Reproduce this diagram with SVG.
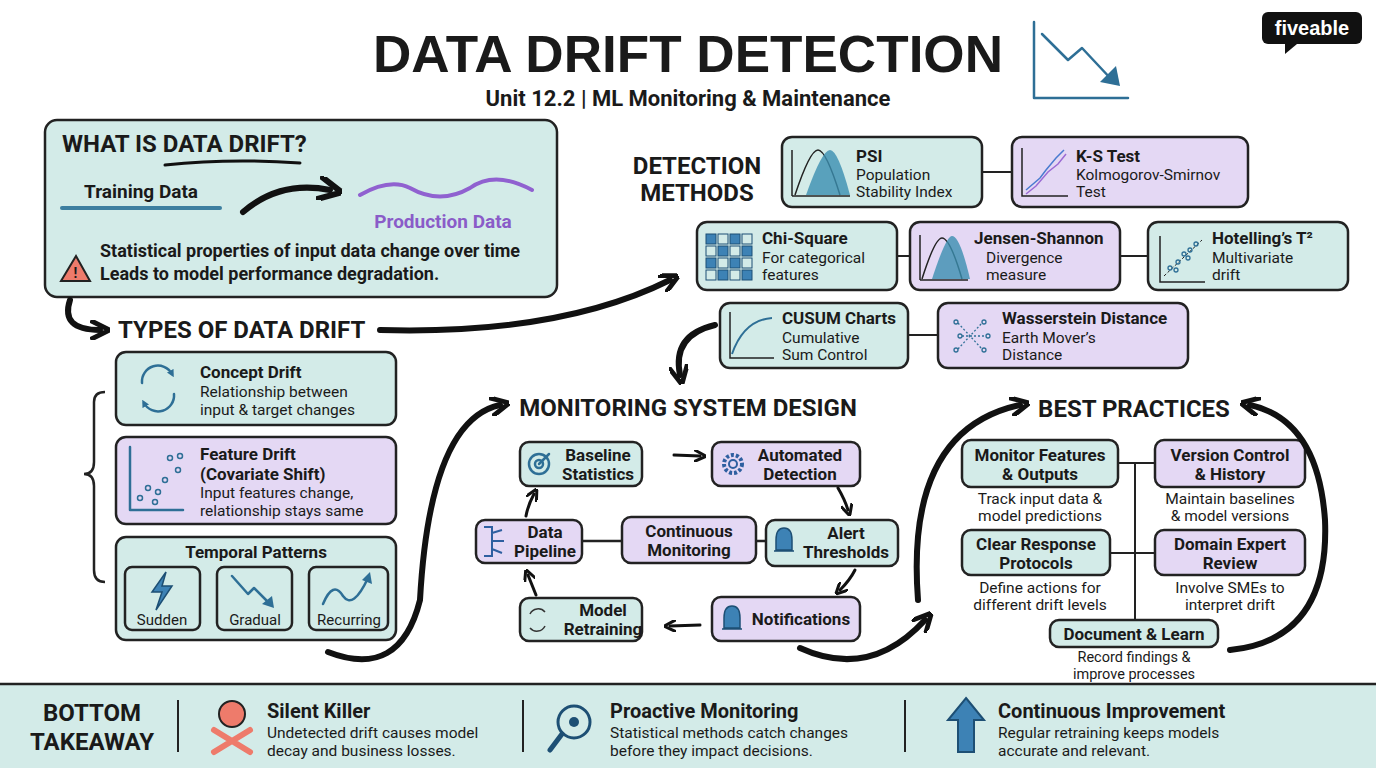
<svg xmlns="http://www.w3.org/2000/svg" width="1376" height="768" viewBox="0 0 1376 768">
<style>
text{font-family:"Liberation Sans Narrow","Roboto","Liberation Sans",sans-serif;fill:#1a1a1a}
.b{font-weight:bold}
.t{fill:#d3ebe8;stroke:#222;stroke-width:2.5}
.p{fill:#e4d8f4;stroke:#222;stroke-width:2.5}
.ic{fill:none;stroke:#2e6f96;stroke-width:2.5;stroke-linecap:round;stroke-linejoin:round}
.ar{fill:none;stroke:#111;stroke-width:6;stroke-linecap:round}
.a3{fill:none;stroke:#111;stroke-width:3;stroke-linecap:round}
.h{font-size:24px;font-weight:bold}
.n{font-size:17px;font-weight:bold}
.s{font-size:15.5px}
</style>
<defs>
<marker id="m" viewBox="0 0 10 10" refX="5" refY="5" markerWidth="3.2" markerHeight="3.2" orient="auto"><path d="M0,0 L10,5 L0,10" fill="none" stroke="#111" stroke-width="2.5"/></marker>
<marker id="ms" viewBox="0 0 10 10" refX="5" refY="5" markerWidth="4" markerHeight="4" orient="auto"><path d="M0,0 L10,5 L0,10" fill="none" stroke="#111" stroke-width="2.5"/></marker>
<marker id="mi" viewBox="0 0 10 10" refX="5" refY="5" markerWidth="3" markerHeight="3" orient="auto"><path d="M0,0 L10,5 L0,10Z" fill="#2e6f96"/></marker>
</defs>
<rect width="1376" height="768" fill="#fff"/>
<g id="title">
<text x="688" y="72" text-anchor="middle" font-size="52" font-weight="900" style="font-family:'Liberation Sans','Roboto',sans-serif" textLength="630" lengthAdjust="spacingAndGlyphs">DATA DRIFT DETECTION</text>
<text x="688" y="106" text-anchor="middle" font-size="22" class="b">Unit 12.2 | ML Monitoring &amp; Maintenance</text>
<path d="M1034,22 L1034,98 L1128,98" class="ic" stroke-width="4"/>
<path d="M1042,34 L1068,60 L1082,48 L1112,80" class="ic" stroke-width="4"/>
<path d="M1100,82 L1120,86 L1116,66 Z" fill="#2e6f96"/>
<rect x="1262" y="12" width="100" height="32" rx="6" fill="#111"/>
<path d="M1285,44 L1285,54 L1297,44Z" fill="#111"/>
<text x="1312" y="35" text-anchor="middle" font-size="20" class="b" style="fill:#fff;font-family:'Liberation Sans',sans-serif">fiveable</text>
</g>
<g id="what">
<rect x="45" y="120" width="512" height="177" rx="12" class="t"/>
<text x="62" y="152" class="h">WHAT IS DATA DRIFT?</text>
<path d="M165,165 Q230,158 300,163" class="a3"/>
<text x="84" y="198" font-size="19" class="b">Training Data</text>
<path d="M62,208 L220,208" stroke="#3d7fa0" stroke-width="4" stroke-linecap="round"/>
<path d="M243,212 Q280,180 330,190" class="ar" marker-end="url(#ms)"/>
<path d="M360,195 Q390,178 410,188 Q440,205 470,188 Q495,170 532,190" fill="none" stroke="#9061d0" stroke-width="4" stroke-linecap="round"/>
<text x="443" y="228" text-anchor="middle" font-size="19" class="b" style="fill:#8a5cc8">Production Data</text>
<text x="100" y="257" font-size="18" class="b">Statistical properties of input data change over time</text>
<text x="100" y="280" font-size="18" class="b">Leads to model performance degradation.</text>
<path d="M76,256 L90,281 L61,281 Z" fill="#ee7b6b" stroke="#222" stroke-width="2"/>
<text x="75.5" y="278" text-anchor="middle" font-size="14" class="b">!</text>
</g>
<g id="types">
<text x="118" y="338" class="h">TYPES OF DATA DRIFT</text>
<path d="M105,392 Q94,392 94,402 L94,462 Q94,474 84,474 Q94,474 94,486 L94,570 Q94,582 105,582" fill="none" stroke="#222" stroke-width="2.5"/>
<rect x="116" y="352" width="280" height="73" rx="10" class="t"/>
<path d="M142,383 A16,16 0 0 1 172,374" class="ic" stroke-width="4" marker-end="url(#mi)"/>
<path d="M174,394 A16,16 0 0 1 144,403" class="ic" stroke-width="4" marker-end="url(#mi)"/>
<text x="200" y="378" class="n">Concept Drift</text>
<text x="200" y="397" class="s">Relationship between</text>
<text x="200" y="415" class="s">input &amp; target changes</text>
<rect x="116" y="437" width="280" height="87" rx="10" class="p"/>
<path d="M130,447 L130,510 L183,510" class="ic" stroke-width="2"/>
<g fill="none" stroke="#2e6f96" stroke-width="1.5"><circle cx="140" cy="498" r="2.5"/><circle cx="148" cy="488" r="2.5"/><circle cx="158" cy="492" r="2.5"/><circle cx="165" cy="480" r="2.5"/><circle cx="178" cy="470" r="2.5"/><circle cx="170" cy="458" r="2.5"/><circle cx="180" cy="456" r="2.5"/><circle cx="155" cy="502" r="2.5"/></g>
<text x="200" y="460" class="n">Feature Drift</text>
<text x="200" y="480" class="n">(Covariate Shift)</text>
<text x="200" y="498" class="s">Input features change,</text>
<text x="200" y="516" class="s">relationship stays same</text>
<rect x="116" y="537" width="280" height="103" rx="10" class="t"/>
<text x="256" y="558" text-anchor="middle" class="n">Temporal Patterns</text>
<rect x="125" y="567" width="75" height="63" rx="7" class="t" stroke-width="2"/>
<rect x="217" y="567" width="75" height="63" rx="7" class="t" stroke-width="2"/>
<rect x="309" y="567" width="79" height="63" rx="7" class="t" stroke-width="2"/>
<path d="M166,572 L152,592 L162,592 L156,610 L172,586 L162,586 Z" fill="#3d82b5" stroke="#1d4f74" stroke-width="1.5"/>
<path d="M232,576 L248,594 L254,588 L270,604" class="ic" stroke-width="4"/>
<path d="M262,604 L274,608 L272,596Z" fill="#2e6f96"/>
<path d="M323,604 Q333,580 343,596 Q353,610 368,578" class="ic" stroke-width="4"/>
<path d="M362,580 L370,572 L372,584Z" fill="#2e6f96"/>
<text x="162" y="625" text-anchor="middle" font-size="15">Sudden</text>
<text x="255" y="625" text-anchor="middle" font-size="15">Gradual</text>
<text x="349" y="625" text-anchor="middle" font-size="15">Recurring</text>
</g>
<g id="detection">
<text x="697" y="174" text-anchor="middle" class="h">DETECTION</text>
<text x="697" y="201" text-anchor="middle" class="h">METHODS</text>
<rect x="782" y="137" width="200" height="70" rx="10" class="t"/>
<path d="M792,196 L850,196 M792,150 L792,196" stroke="#222" stroke-width="1.5"/>
<path d="M795,195 Q810,150 818,150 Q826,150 840,195" fill="none" stroke="#222" stroke-width="1.5"/>
<path d="M806,195 Q822,150 830,150 Q838,150 850,195Z" fill="#3b8fb0" opacity="0.8"/>
<text x="856" y="162" class="n">PSI</text>
<text x="856" y="180" class="s">Population</text>
<text x="856" y="197" class="s">Stability Index</text>
<line x1="982" y1="172" x2="1012" y2="172" stroke="#222" stroke-width="2"/>
<rect x="1012" y="137" width="236" height="70" rx="10" class="p"/>
<path d="M1022,148 L1022,196 L1068,196" stroke="#222" stroke-width="1.5" fill="none"/>
<path d="M1026,190 L1040,178 L1046,170 L1056,158 L1064,150" stroke="#4a7bd0" stroke-width="1.5" fill="none"/>
<path d="M1026,194 L1036,186 L1048,172 L1058,164 L1066,154" stroke="#9b6ad4" stroke-width="1.5" fill="none"/>
<text x="1076" y="162" class="n">K-S Test</text>
<text x="1076" y="180" class="s">Kolmogorov-Smirnov</text>
<text x="1076" y="197" class="s">Test</text>
<rect x="697" y="222" width="200" height="68" rx="10" class="t"/>
<g fill="#3d82b5" stroke="#1d4f74" stroke-width="1"><rect x="706" y="234" width="10" height="10"/><rect x="718" y="234" width="10" height="10" fill="#d3ebe8"/><rect x="730" y="234" width="10" height="10"/><rect x="742" y="234" width="10" height="10" fill="#d3ebe8"/><rect x="706" y="246" width="10" height="10" fill="#d3ebe8"/><rect x="718" y="246" width="10" height="10"/><rect x="730" y="246" width="10" height="10" fill="#d3ebe8"/><rect x="742" y="246" width="10" height="10"/><rect x="706" y="258" width="10" height="10"/><rect x="718" y="258" width="10" height="10" fill="#d3ebe8"/><rect x="730" y="258" width="10" height="10"/><rect x="742" y="258" width="10" height="10" fill="#d3ebe8"/><rect x="706" y="270" width="10" height="10" fill="#d3ebe8"/><rect x="718" y="270" width="10" height="10"/><rect x="730" y="270" width="10" height="10" fill="#d3ebe8"/><rect x="742" y="270" width="10" height="10"/></g>
<text x="762" y="244" class="n">Chi-Square</text>
<text x="762" y="263" class="s">For categorical</text>
<text x="762" y="280" class="s">features</text>
<line x1="897" y1="256" x2="910" y2="256" stroke="#222" stroke-width="2"/>
<rect x="910" y="222" width="210" height="68" rx="10" class="p"/>
<path d="M920,280 L968,280 M920,235 L920,280" stroke="#222" stroke-width="1.5"/>
<path d="M922,279 Q935,238 942,238 Q950,238 962,279" fill="none" stroke="#222" stroke-width="1.5"/>
<path d="M932,279 Q946,236 952,236 Q960,236 970,279Z" fill="#3b8fb0" opacity="0.8"/>
<text x="974" y="244" class="n">Jensen-Shannon</text>
<text x="986" y="263" class="s">Divergence</text>
<text x="986" y="280" class="s">measure</text>
<line x1="1120" y1="256" x2="1148" y2="256" stroke="#222" stroke-width="2"/>
<rect x="1148" y="222" width="200" height="68" rx="10" class="t"/>
<path d="M1160,236 L1160,282 L1205,282" stroke="#222" stroke-width="1.5" fill="none"/>
<path d="M1164,276 L1202,240" stroke="#222" stroke-width="1" stroke-dasharray="3,2"/>
<g fill="none" stroke="#2e6f96" stroke-width="1.3"><circle cx="1170" cy="268" r="2"/><circle cx="1178" cy="262" r="2"/><circle cx="1184" cy="254" r="2"/><circle cx="1190" cy="250" r="2"/><circle cx="1196" cy="244" r="2"/><circle cx="1176" cy="270" r="2"/><circle cx="1188" cy="258" r="2"/></g>
<text x="1212" y="244" class="n">Hotelling’s T²</text>
<text x="1212" y="263" class="s">Multivariate</text>
<text x="1212" y="280" class="s">drift</text>
<rect x="720" y="303" width="188" height="65" rx="10" class="t"/>
<path d="M730,312 L730,358 L774,358" stroke="#222" stroke-width="1.5" fill="none"/>
<path d="M732,354 Q744,320 772,318" stroke="#2e6f96" stroke-width="2" fill="none"/>
<text x="782" y="324" class="n">CUSUM Charts</text>
<text x="782" y="343" class="s">Cumulative</text>
<text x="782" y="360" class="s">Sum Control</text>
<line x1="908" y1="335" x2="938" y2="335" stroke="#222" stroke-width="2"/>
<rect x="938" y="303" width="250" height="65" rx="10" class="p"/>
<g fill="none" stroke="#2e6f96" stroke-width="1.3"><circle cx="956" cy="322" r="2"/><circle cx="960" cy="336" r="2"/><circle cx="956" cy="350" r="2"/><circle cx="984" cy="322" r="2"/><circle cx="988" cy="336" r="2"/><circle cx="984" cy="350" r="2"/><path d="M958,323 L982,349 M958,349 L982,323 M962,336 L986,336" stroke-dasharray="2,2"/></g>
<text x="1002" y="324" class="n">Wasserstein Distance</text>
<text x="1002" y="343" class="s">Earth Mover’s</text>
<text x="1002" y="360" class="s">Distance</text>
</g>
<g id="monitoring">
<text x="688" y="416" text-anchor="middle" class="h">MONITORING SYSTEM DESIGN</text>
<rect x="520" y="442" width="122" height="44" rx="9" class="t"/>
<circle cx="539" cy="464" r="10" class="ic"/><circle cx="539" cy="464" r="4" class="ic"/><path d="M539,464 L549,454" class="ic"/>
<text x="598" y="461" text-anchor="middle" class="n">Baseline</text>
<text x="598" y="480" text-anchor="middle" class="n">Statistics</text>
<rect x="712" y="442" width="148" height="44" rx="9" class="p"/>
<circle cx="733" cy="464" r="9" fill="none" stroke="#2e5fa0" stroke-width="4" stroke-dasharray="3,2"/><circle cx="733" cy="464" r="4" fill="none" stroke="#2e5fa0" stroke-width="2"/>
<text x="800" y="461" text-anchor="middle" class="n">Automated</text>
<text x="800" y="480" text-anchor="middle" class="n">Detection</text>
<rect x="476" y="520" width="106" height="43" rx="9" class="p"/>
<path d="M484,527 L492,527 L492,556 L484,556 M492,533 L502,530 M492,541 L504,541 M492,549 L502,553" fill="none" stroke="#2e5fa0" stroke-width="2"/>
<text x="545" y="538" text-anchor="middle" class="n">Data</text>
<text x="545" y="557" text-anchor="middle" class="n">Pipeline</text>
<rect x="622" y="517" width="134" height="46" rx="9" class="p"/>
<text x="689" y="537" text-anchor="middle" class="n">Continuous</text>
<text x="689" y="556" text-anchor="middle" class="n">Monitoring</text>
<rect x="766" y="520" width="132" height="46" rx="9" class="t"/>
<path d="M776,550 L776,540 Q776,528 784,528 Q792,528 792,540 L792,550 Z M774,551 L794,551" fill="#3d82b5" stroke="#1d4f74" stroke-width="1.5"/>
<text x="846" y="539" text-anchor="middle" class="n">Alert</text>
<text x="846" y="558" text-anchor="middle" class="n">Thresholds</text>
<rect x="520" y="598" width="122" height="43" rx="9" class="t"/>
<path d="M530,614 A9,9 0 0 1 545,612 M545,626 A9,9 0 0 1 530,628" fill="none" stroke="#333" stroke-width="1.5"/>
<text x="603" y="616" text-anchor="middle" class="n">Model</text>
<text x="603" y="635" text-anchor="middle" class="n">Retraining</text>
<rect x="712" y="597" width="148" height="44" rx="9" class="p"/>
<path d="M724,628 L724,618 Q724,606 732,606 Q740,606 740,618 L740,628 Z M722,629 L742,629" fill="#3d82b5" stroke="#1d4f74" stroke-width="1.5"/>
<text x="801" y="625" text-anchor="middle" class="n">Notifications</text>
</g>
<g id="best">
<text x="1134" y="417" text-anchor="middle" class="h">BEST PRACTICES</text>
<path d="M1135,463 L1135,620 M1118,463 L1155,463 M1110,553 L1155,553" stroke="#222" stroke-width="2"/>
<rect x="962" y="440" width="156" height="47" rx="9" class="t"/>
<text x="1040" y="461" text-anchor="middle" class="n">Monitor Features</text>
<text x="1040" y="480" text-anchor="middle" class="n">&amp; Outputs</text>
<text x="1040" y="504" text-anchor="middle" class="s">Track input data &amp;</text>
<text x="1040" y="521" text-anchor="middle" class="s">model predictions</text>
<rect x="1155" y="440" width="150" height="47" rx="9" class="p"/>
<text x="1230" y="461" text-anchor="middle" class="n">Version Control</text>
<text x="1230" y="480" text-anchor="middle" class="n">&amp; History</text>
<text x="1230" y="504" text-anchor="middle" class="s">Maintain baselines</text>
<text x="1230" y="521" text-anchor="middle" class="s">&amp; model versions</text>
<rect x="962" y="530" width="148" height="45" rx="9" class="t"/>
<text x="1036" y="550" text-anchor="middle" class="n">Clear Response</text>
<text x="1036" y="569" text-anchor="middle" class="n">Protocols</text>
<text x="1040" y="593" text-anchor="middle" class="s">Define actions for</text>
<text x="1040" y="610" text-anchor="middle" class="s">different drift levels</text>
<rect x="1155" y="530" width="150" height="45" rx="9" class="p"/>
<text x="1230" y="550" text-anchor="middle" class="n">Domain Expert</text>
<text x="1230" y="569" text-anchor="middle" class="n">Review</text>
<text x="1230" y="593" text-anchor="middle" class="s">Involve SMEs to</text>
<text x="1230" y="610" text-anchor="middle" class="s">interpret drift</text>
<rect x="1050" y="620" width="168" height="27" rx="9" class="t"/>
<text x="1134" y="640" text-anchor="middle" class="n">Document &amp; Learn</text>
<text x="1134" y="662" text-anchor="middle" font-size="14.5">Record findings &amp;</text>
<text x="1134" y="679" text-anchor="middle" font-size="14.5">improve processes</text>
</g>
<g id="connectors">
<path d="M70,300 Q60,330 100,330" class="ar" marker-end="url(#m)"/>
<path d="M380,330 Q560,335 670,280" class="ar" marker-end="url(#m)"/>
<path d="M715,325 Q672,335 680,375" class="ar" marker-end="url(#m)"/>
<path d="M328,652 Q400,680 420,600 Q430,420 500,405" class="ar" marker-end="url(#m)"/>
<path d="M800,648 Q870,680 925,620" class="ar" marker-end="url(#m)"/>
<path d="M918,600 Q905,430 1020,405" class="ar" marker-end="url(#m)"/>
<path d="M1230,650 Q1330,640 1325,520 Q1318,420 1250,405" class="ar" marker-end="url(#m)"/>
<g class="a3" marker-end="url(#ms)">
<path d="M674,455 L700,456"/>
<path d="M838,488 Q845,500 848,510"/>
<path d="M855,570 Q850,580 840,590"/>
<path d="M700,625 L670,626"/>
<path d="M536,595 Q532,585 528,575"/>
<path d="M526,516 Q528,505 534,494"/>
</g>
<path d="M582,541 L622,541 M756,541 L766,541" stroke="#222" stroke-width="2.5"/>
</g>
<g id="takeaway">
<rect x="0" y="684" width="1376" height="84" fill="#d3ebe8"/>
<line x1="0" y1="684" x2="1376" y2="684" stroke="#222" stroke-width="2.5"/>
<text x="92" y="721" text-anchor="middle" class="h" font-size="23">BOTTOM</text>
<text x="92" y="750" text-anchor="middle" class="h" font-size="23">TAKEAWAY</text>
<path d="M178,700 L178,752 M523,700 L523,752 M905,700 L905,752" stroke="#222" stroke-width="2"/>
<circle cx="232" cy="714" r="13" fill="#ee7b6b" stroke="#222" stroke-width="2"/>
<path d="M214,730 L250,752 M250,730 L214,752" stroke="#ee7b6b" stroke-width="6" stroke-linecap="round"/>
<text x="267" y="718" font-size="20" class="b">Silent Killer</text>
<text x="267" y="738" class="s" font-size="17">Undetected drift causes model</text>
<text x="267" y="756" class="s" font-size="17">decay and business losses.</text>
<circle cx="574" cy="722" r="16" fill="#d3ebe8" stroke="#1d4f74" stroke-width="3"/>
<circle cx="574" cy="722" r="5" fill="#1d4f74"/>
<path d="M562,734 L550,750" stroke="#1d4f74" stroke-width="5" stroke-linecap="round"/>
<text x="610" y="718" font-size="20" class="b">Proactive Monitoring</text>
<text x="610" y="738" class="s" font-size="17">Statistical methods catch changes</text>
<text x="610" y="756" class="s" font-size="17">before they impact decisions.</text>
<path d="M966,698 L984,720 L974,720 L974,752 L958,752 L958,720 L948,720 Z" fill="#3d82b5" stroke="#1d4f74" stroke-width="2"/>
<text x="998" y="718" font-size="20" class="b">Continuous Improvement</text>
<text x="998" y="738" class="s" font-size="17">Regular retraining keeps models</text>
<text x="998" y="756" class="s" font-size="17">accurate and relevant.</text>
</g>
</svg>
